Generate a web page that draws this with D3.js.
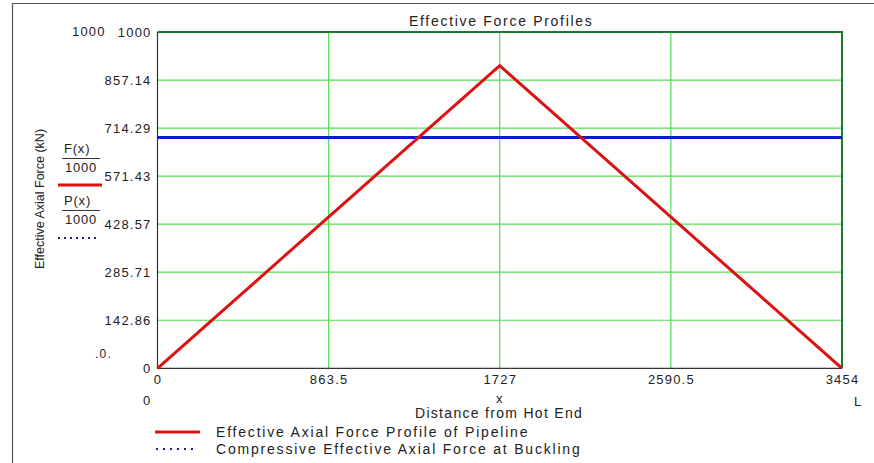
<!DOCTYPE html>
<html>
<head>
<meta charset="utf-8">
<script src="https://cdn.jsdelivr.net/npm/d3@7"></script>
<style>
  html, body { margin: 0; padding: 0; background: #fff; }
  svg { display: block; font-family: Arial, "Liberation Sans", sans-serif; }
</style>
</head>
<body>
<svg id="chart" width="874" height="463"></svg>
<script>
// Distance along the pipeline (m) and effective axial force (kN)
const xTickValues = [0, 863.5, 1727, 2590.5, 3454];
const yTickValues = [0, 142.86, 285.71, 428.57, 571.43, 714.29, 857.14, 1000];
const profileDistance = [0, 1727, 3454];
const profileForce = [0, 900, 0];
const bucklingDistance = [0, 3454];
const bucklingForce = [686, 686];
const legendLabels = ["Effective Axial Force Profile of Pipeline", "Compressive Effective Axial Force at Buckling"];

const svg = d3.select("#chart");
const plot = { left: 157.5, right: 842, top: 32, bottom: 368.3 };

const x = d3.scaleLinear().domain([0, 3454]).range([plot.left, plot.right]);
const y = d3.scaleLinear().domain([0, 1000]).range([plot.bottom, plot.top]);

// outer frame
svg.append("path").attr("d", "M12.5,463 V3.5 H874")
  .attr("fill", "none").attr("stroke", "#555").attr("stroke-width", 1.2);

// grid
const gridColor = "#55dd55";
svg.append("g").selectAll("line").data(yTickValues.slice(1, -1)).join("line")
  .attr("x1", plot.left).attr("x2", plot.right)
  .attr("y1", d => y(d)).attr("y2", d => y(d))
  .attr("stroke", gridColor).attr("stroke-width", 1.2);
svg.append("g").selectAll("line").data(xTickValues.slice(1, -1)).join("line")
  .attr("y1", plot.top).attr("y2", plot.bottom)
  .attr("x1", d => x(d)).attr("x2", d => x(d))
  .attr("stroke", gridColor).attr("stroke-width", 1.2);

// top and right border (dark green), left and bottom axes (dark grey)
svg.append("path")
  .attr("d", `M${plot.left},${plot.top} H${plot.right} V${plot.bottom}`)
  .attr("fill", "none").attr("stroke", "#1e7a2e").attr("stroke-width", 2);
svg.append("path")
  .attr("d", `M${plot.left},${plot.top} V${plot.bottom} H${plot.right}`)
  .attr("fill", "none").attr("stroke", "#333").attr("stroke-width", 1.2);

const FONT = "Arial, 'Liberation Sans', sans-serif";

// tick labels via d3 axes (domain and tick lines hidden)
const yAxis = svg.append("g").attr("transform", `translate(${plot.left},0)`)
  .call(d3.axisLeft(y).tickValues(yTickValues).tickSize(0).tickPadding(6)
    .tickFormat(d => String(d)));
yAxis.select(".domain").remove();
yAxis.selectAll("text").attr("font-size", 13).attr("fill", "#222")
  .attr("font-family", FONT).attr("letter-spacing", 1.2);

const xAxis = svg.append("g").attr("transform", `translate(0,${plot.bottom})`)
  .call(d3.axisBottom(x).tickValues(xTickValues).tickSize(0).tickPadding(6)
    .tickFormat(d => String(d)));
xAxis.select(".domain").remove();
xAxis.selectAll("text").attr("font-size", 13).attr("fill", "#222")
  .attr("font-family", FONT).attr("letter-spacing", 1.2);

// data lines
const line = d3.line().x(d => x(d[0])).y(d => y(d[1]));
svg.append("path").datum(bucklingDistance.map((d, i) => [d, bucklingForce[i]]))
  .attr("d", line).attr("fill", "none").attr("stroke", "#0a1ad0").attr("stroke-width", 3);
svg.append("path").datum(profileDistance.map((d, i) => [d, profileForce[i]]))
  .attr("d", line).attr("fill", "none").attr("stroke", "#dd1111").attr("stroke-width", 3)
  .attr("stroke-linejoin", "round");

// text annotations
const txt = (t, px, py, opts = {}) => svg.append("text").text(t)
  .attr("x", px).attr("y", py)
  .attr("font-size", opts.size || 13)
  .attr("fill", opts.fill || "#222")
  .attr("letter-spacing", opts.ls != null ? opts.ls : 1.2)
  .attr("text-anchor", opts.anchor || "start")
  .attr("transform", opts.rotate ? `rotate(${opts.rotate},${px},${py})` : null);

txt("Effective Force Profiles", 409, 26, { size: 14, ls: 1.7 });
txt("1000", 72, 36);
txt(".0.", 95, 358, { size: 12 });
txt("0", 143, 405);
txt("x", 496, 403);
txt("L", 854, 406);
txt("Distance from Hot End", 415, 418, { size: 14, ls: 1.3 });
txt("Effective Axial Force (kN)", 44, 199, { anchor: "middle", size: 12.5, ls: 0, rotate: -90 });

// trace labels beside the y axis
txt("F(x)", 64, 153, { size: 13, ls: 0.8 });
svg.append("line").attr("x1", 62).attr("x2", 100).attr("y1", 158.5).attr("y2", 158.5)
  .attr("stroke", "#333").attr("stroke-width", 1);
txt("1000", 65, 172, { size: 13, ls: 0.8 });
svg.append("line").attr("x1", 58).attr("x2", 102).attr("y1", 185).attr("y2", 185)
  .attr("stroke", "#dd1111").attr("stroke-width", 3);
txt("P(x)", 64, 205, { size: 13, ls: 0.8 });
svg.append("line").attr("x1", 62).attr("x2", 100).attr("y1", 210.5).attr("y2", 210.5)
  .attr("stroke", "#333").attr("stroke-width", 1);
txt("1000", 65, 224, { size: 13, ls: 0.8 });
svg.append("line").attr("x1", 58).attr("x2", 96).attr("y1", 238).attr("y2", 238)
  .attr("stroke", "#1a1aa0").attr("stroke-width", 2).attr("stroke-dasharray", "2,4");

// legend
const legend = svg.append("g");
legend.append("line").attr("x1", 155).attr("x2", 200).attr("y1", 432).attr("y2", 432)
  .attr("stroke", "#dd1111").attr("stroke-width", 3);
legend.append("line").attr("x1", 156).attr("x2", 196).attr("y1", 449).attr("y2", 449)
  .attr("stroke", "#1a1aa0").attr("stroke-width", 2).attr("stroke-dasharray", "2,5");
legendLabels.forEach((l, i) => txt(l, 216, 437 + i * 16.5, { size: 14, ls: 1.8 }));
</script>
</body>
</html>
